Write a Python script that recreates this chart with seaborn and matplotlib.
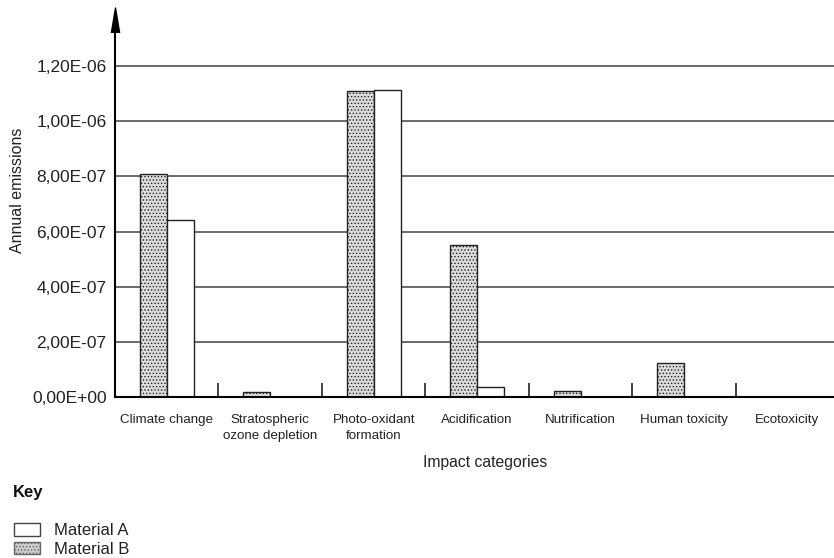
import pandas as pd
import seaborn as sns
import matplotlib.pyplot as plt
from matplotlib.patches import Patch
from matplotlib.ticker import FuncFormatter, FixedLocator

categories = ["Climate change", "Stratospheric\nozone depletion", "Photo-oxidant\nformation",
              "Acidification", "Nutrification", "Human toxicity", "Ecotoxicity"]
material_b = [8.07e-7, 1.8e-8, 1.108e-6, 5.51e-7, 2.2e-8, 1.22e-7, 0.0]
material_a = [6.42e-7, 0.0, 1.114e-6, 3.5e-8, 0.0, 0.0, 0.0]
y_ticks = [0, 2e-7, 4e-7, 6e-7, 8e-7, 1e-6, 1.2e-6]

df = pd.DataFrame({
    "category": categories * 2,
    "value": material_b + material_a,
    "material": ["Material B"] * 7 + ["Material A"] * 7,
})

sns.set_style("white")
plt.rcParams["font.family"] = ["Liberation Sans", "DejaVu Sans"]
plt.rcParams["hatch.color"] = "#888888"
plt.rcParams["hatch.linewidth"] = 0.6

fig = plt.figure(figsize=(8.34, 5.58), dpi=100)
ax = fig.add_axes([115 / 834, 161 / 558, 719 / 834, 377 / 558])

sns.barplot(data=df, x="category", y="value", hue="material",
            hue_order=["Material B", "Material A"], width=0.52,
            edgecolor="#222222", linewidth=1.0, legend=False, ax=ax)

# dotted fill for Material B, plain white for Material A
styles = {"Material B": ("#dcdcdc", "....."), "Material A": ("white", "")}
for cont, name in zip(ax.containers, ["Material B", "Material A"]):
    for bar in cont:
        bar.set_facecolor(styles[name][0])
        bar.set_hatch(styles[name][1])

ax.set_xlim(-0.5, 6.45)
ax.set_ylim(0, 1.367e-6)
ax.yaxis.set_major_locator(FixedLocator(y_ticks))
ax.yaxis.set_major_formatter(FuncFormatter(lambda v, p: f"{v:.2E}".replace(".", ",")))
ax.grid(axis="y", color="#6a6a6a", linewidth=1.4)
ax.set_axisbelow(True)

for s in ["top", "right"]:
    ax.spines[s].set_visible(False)
for s in ["left", "bottom"]:
    ax.spines[s].set_color("black")
    ax.spines[s].set_linewidth(1.5)

ax.tick_params(axis="y", length=0, labelsize=12.5, pad=6, labelcolor="#222222")
ax.tick_params(axis="x", which="major", length=0, labelsize=9.6, pad=12, labelcolor="#222222")
for lbl in ax.get_xticklabels():
    lbl.set_linespacing(1.45)
ax.set_xticks([i + 0.5 for i in range(6)], minor=True)
ax.tick_params(axis="x", which="minor", bottom=True, direction="in", length=10,
               width=1.2, color="#222222")

ax.set_xlabel("")
ax.set_ylabel("")
fig.text(17.5 / 834, 1 - 190 / 558, "Annual emissions", rotation=90, ha="center",
         va="center", fontsize=11.5, color="#222222")

# axis arrow
ax.plot(0, 1, marker=[(-1, -3), (0, 3), (1, -3)], markersize=18, color="black",
        transform=ax.transAxes, clip_on=False)

fig.text(485 / 834, 1 - 463 / 558, "Impact categories", ha="center", va="center",
         fontsize=11.3, color="#222222")
fig.text(13 / 834, 1 - 492 / 558, "Key", ha="left", va="center",
         fontsize=12, fontweight="bold", color="#111111")

handles = [Patch(facecolor="white", edgecolor="#444444", label="Material A"),
           Patch(facecolor="#cccccc", edgecolor="#666666", hatch=".....", label="Material B")]
fig.legend(handles=handles, loc="upper left", bbox_to_anchor=(14 / 834, 1 - 523 / 558),
           frameon=False, fontsize=12, handlelength=1.56, handleheight=0.8,
           handletextpad=0.84, labelspacing=0.2, borderpad=0, borderaxespad=0,
           labelcolor="#222222")

fig.savefig("out.png", dpi=100)
